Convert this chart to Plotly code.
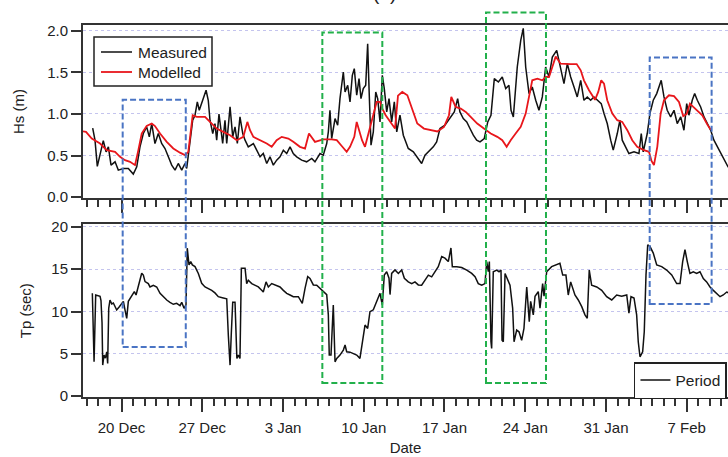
import plotly.graph_objects as go
from datetime import datetime, timedelta

# ---------------- data (time in days since base date) ----------------
base_date = datetime(2013, 12, 17)

hs_meas_t = [0.50, 0.70, 0.90, 1.14, 1.42, 1.66, 1.86, 2.09, 2.44, 2.72, 3.16, 3.59, 4.02, 4.32, 4.60, 4.89,
             5.18, 5.41, 5.62, 5.90, 6.19, 6.48, 6.77, 7.06, 7.35, 7.64, 7.92, 8.22, 8.50, 8.65, 8.94, 9.17,
             9.37, 9.57, 9.74, 9.95, 10.15, 10.33, 10.52, 10.67, 10.91, 11.10, 11.25, 11.45, 11.77, 11.97,
             12.12, 12.41, 12.64, 12.84, 13.04, 13.27, 13.51, 13.71, 13.99, 14.43, 14.72, 15.01, 15.29,
             15.59, 15.87, 16.16, 16.45, 16.74, 17.03, 17.32, 17.61, 17.89, 18.19, 18.62, 19.05, 19.49,
             19.77, 20.21, 20.49, 20.79, 20.93, 21.07, 21.22, 21.51, 21.74, 21.94, 22.23, 22.38, 22.61,
             22.81, 23.01, 23.18, 23.39, 23.59, 23.76, 23.96, 24.17, 24.34, 24.46, 24.63, 24.83, 25.04,
             25.21, 25.41, 25.61, 25.78, 25.99, 26.19, 26.42, 26.65, 26.86, 27.14, 27.43, 27.86, 28.30,
             28.73, 29.02, 29.31, 29.60, 30.03, 30.32, 30.61, 31.04, 31.48, 31.85, 32.14, 32.34, 32.63,
             32.93, 33.21, 33.50, 33.79, 34.08, 34.45, 34.75, 35.03, 35.32, 35.67, 36.01, 36.31, 36.59,
             36.77, 36.97, 37.31, 37.61, 37.83, 38.04, 38.33, 38.61, 38.91, 39.19, 39.48, 39.77, 40.06,
             40.35, 40.73, 41.07, 41.36, 41.65, 41.94, 42.23, 42.51, 42.81, 43.09, 43.38, 43.67, 43.96,
             44.25, 44.59, 44.83, 45.11, 45.41, 45.63, 45.98, 46.21, 46.41, 46.71, 46.99, 47.43, 47.86,
             48.06, 48.23, 48.58, 48.81, 49.10, 49.40, 49.79, 50.03, 50.31, 50.61, 50.90, 51.18, 51.48,
             51.76, 52.00, 52.19, 52.48, 52.69, 52.92, 53.21, 53.50, 53.78, 54.08, 54.36, 54.65, 54.94,
             55.23, 55.58, 56.00]
hs_meas = [0.83, 0.685, 0.37, 0.53, 0.68, 0.545, 0.605, 0.385, 0.425, 0.325, 0.345, 0.345, 0.277, 0.365,
           0.605, 0.765, 0.845, 0.725, 0.885, 0.645, 0.765, 0.645, 0.585, 0.485, 0.385, 0.325, 0.405, 0.325,
           0.405, 0.345, 0.685, 0.925, 0.985, 1.145, 1.045, 1.125, 1.205, 1.285, 1.165, 0.925, 0.765, 0.885,
           0.685, 1.0, 0.645, 0.925, 0.645, 1.085, 0.725, 0.845, 0.645, 0.965, 0.765, 0.685, 0.605, 0.645,
           0.565, 0.485, 0.525, 0.405, 0.485, 0.385, 0.445, 0.485, 0.565, 0.525, 0.605, 0.525, 0.485, 0.445,
           0.425, 0.465, 0.425, 0.525, 0.505, 0.645, 0.785, 1.045, 0.705, 0.945, 0.865, 1.185, 1.505, 1.265,
           1.345, 1.145, 1.465, 1.545, 1.225, 1.425, 1.185, 1.305, 1.345, 1.845, 1.305, 0.625, 0.785, 1.265,
           1.185, 0.905, 1.465, 1.305, 1.025, 1.185, 0.905, 1.145, 0.785, 0.985, 0.745, 0.585, 0.545, 0.465,
           0.405, 0.505, 0.545, 0.605, 0.665, 0.825, 0.865, 0.945, 1.025, 1.185, 1.025, 0.945, 0.905, 0.825,
           0.745, 0.685, 0.665, 0.705, 0.905, 0.985, 1.425, 1.385, 1.445, 1.305, 1.345, 1.045, 0.965, 1.565,
           1.885, 2.03, 1.565, 1.245, 1.325, 1.165, 1.045, 1.205, 1.565, 1.445, 1.685, 1.765, 1.565, 1.365,
           1.605, 1.445, 1.325, 1.205, 1.405, 1.165, 1.205, 1.165, 1.205, 1.165, 1.125, 1.005, 0.885, 0.685,
           0.565, 0.765, 0.925, 0.685, 0.605, 0.525, 0.545, 0.525, 0.765, 0.545, 0.765, 1.005, 1.165, 1.245,
           1.405, 1.205, 1.045, 0.965, 1.045, 0.885, 0.965, 0.805, 1.125, 0.985, 1.165, 1.245, 1.165, 1.085,
           0.965, 0.885, 0.805, 0.685, 0.605, 0.525, 0.465, 0.365, 0.33]

hs_model_t = [-0.34, -0.08, 0.42, 1.14, 1.72, 2.44, 2.87, 3.30, 3.74, 4.17, 4.46, 4.75, 5.18, 5.62, 5.90,
              6.34, 6.92, 7.49, 8.07, 8.50, 8.79, 9.17, 9.52, 10.24, 10.67, 11.25, 11.82, 12.41, 12.99,
              13.56, 13.91, 14.14, 14.43, 15.01, 15.59, 16.02, 16.45, 16.89, 17.46, 17.89, 18.47, 18.91,
              19.25, 19.77, 20.49, 21.22, 21.66, 22.09, 22.52, 22.81, 23.18, 23.39, 23.67, 23.85, 24.11,
              24.46, 24.74, 25.12, 25.41, 25.61, 25.90, 26.28, 26.71, 26.97, 27.34, 27.78, 28.21, 28.64,
              29.22, 29.80, 30.38, 30.96, 31.39, 31.59, 31.97, 32.41, 32.84, 33.27, 33.84, 34.42, 35.01,
              35.58, 36.01, 36.39, 36.74, 37.17, 37.61, 38.04, 38.33, 38.61, 39.05, 39.48, 39.77, 40.06,
              40.35, 40.64, 41.07, 41.51, 41.94, 42.46, 42.81, 43.09, 43.53, 44.05, 44.33, 44.59, 44.83,
              45.11, 45.55, 45.98, 46.41, 46.85, 47.28, 47.71, 48.29, 48.73, 48.95, 49.16, 49.45, 49.74,
              50.03, 50.46, 50.90, 51.33, 51.70, 52.00, 52.28, 52.57, 52.92, 53.35, 53.78, 54.08]
hs_model = [0.79, 0.785, 0.705, 0.645, 0.565, 0.545, 0.485, 0.445, 0.425, 0.385, 0.565, 0.765, 0.855, 0.885,
            0.855, 0.765, 0.665, 0.585, 0.535, 0.505, 0.545, 0.985, 0.965, 0.965, 0.905, 0.825, 0.785, 0.745,
            0.685, 0.725, 0.905, 0.805, 0.725, 0.685, 0.645, 0.605, 0.685, 0.725, 0.705, 0.665, 0.605, 0.585,
            0.765, 0.665, 0.695, 0.695, 0.685, 0.615, 0.545, 0.605, 0.725, 0.905, 0.785, 0.685, 0.605, 0.785,
            0.945, 1.145, 1.145, 1.065, 0.985, 0.905, 0.825, 1.22, 1.265, 1.225, 1.045, 0.885, 0.825, 0.805,
            0.79, 0.845, 0.985, 1.205, 1.085, 1.065, 1.025, 0.965, 0.885, 0.825, 0.765, 0.725, 0.685, 0.605,
            0.685, 0.765, 0.845, 1.005, 1.205, 1.405, 1.425, 1.405, 1.445, 1.445, 1.565, 1.69, 1.605, 1.6,
            1.6, 1.6, 1.525, 1.405, 1.285, 1.17, 1.265, 1.405, 1.365, 1.165, 1.005, 0.925, 0.905, 0.805,
            0.685, 0.605, 0.565, 0.545, 0.435, 0.385, 0.605, 1.005, 1.165, 1.225, 1.215, 1.145, 0.975, 1.0,
            1.125, 1.085, 1.045, 0.985, 0.875, 0.81]

tp_t = [0.47, 0.55, 0.62, 0.76, 1.14, 1.22, 1.31, 1.37, 1.48, 1.60, 1.72, 1.80, 1.89, 2.00, 2.15, 2.29,
        2.58, 2.81, 3.02, 3.16, 3.30, 3.45, 3.59, 3.80, 3.97, 4.11, 4.26, 4.46, 4.60, 4.75, 4.89, 5.04,
        5.32, 5.47, 5.76, 6.05, 6.34, 6.62, 6.92, 7.20, 7.49, 7.78, 8.07, 8.22, 8.42, 8.59, 8.70, 8.85,
        9.00, 9.14, 9.37, 9.66, 9.95, 10.24, 10.52, 10.82, 11.10, 11.39, 11.82, 12.12, 12.26, 12.41,
        12.52, 12.64, 12.84, 13.00, 13.13, 13.27, 13.39, 13.71, 13.85, 13.99, 14.29, 14.57, 14.86,
        15.15, 15.29, 15.53, 15.73, 16.02, 16.45, 16.74, 17.03, 17.32, 17.61, 17.89, 18.33, 18.67,
        18.91, 19.14, 19.34, 19.63, 19.92, 20.21, 20.49, 20.79, 20.93, 21.01, 21.16, 21.36, 21.51,
        21.66, 21.94, 22.23, 22.38, 22.52, 22.81, 23.09, 23.39, 23.67, 23.82, 24.11, 24.34, 24.54,
        24.83, 25.12, 25.41, 25.61, 25.78, 25.99, 26.19, 26.28, 26.42, 26.71, 27.00, 27.29, 27.52,
        27.86, 28.16, 28.44, 28.73, 29.02, 29.31, 29.60, 29.89, 30.18, 30.46, 30.76, 31.04, 31.33,
        31.56, 31.68, 32.06, 32.49, 32.93, 33.36, 33.65, 33.93, 34.23, 34.51, 34.66, 34.80, 34.89,
        35.03, 35.09, 35.23, 35.53, 35.73, 35.90, 35.99, 36.10, 36.25, 36.53, 36.68, 36.91, 37.03,
        37.26, 37.46, 37.69, 37.89, 38.13, 38.35, 38.47, 38.70, 38.85, 39.13, 39.28, 39.51, 39.63,
        39.86, 40.29, 40.73, 41.01, 41.25, 41.53, 41.73, 41.94, 42.31, 42.60, 42.90, 43.18, 43.38,
        43.55, 43.76, 44.20, 44.63, 45.06, 45.50, 45.93, 46.36, 46.80, 46.99, 47.17, 47.43, 47.66,
        47.80, 47.95, 48.18, 48.32, 48.47, 48.62, 48.81, 49.10, 49.40, 49.83, 50.26, 50.70, 51.13,
        51.42, 51.65, 51.85, 52.05, 52.28, 52.57, 52.86, 53.15, 53.44, 53.73, 54.02, 54.31, 54.60,
        54.89, 55.17, 55.47, 56.00]
tp_vals = [12.15, 7.6, 4.06, 11.95, 11.8, 11.3, 8.7, 3.67, 4.85, 4.5, 5.24, 3.87, 10.38, 11.36, 10.9, 11.0,
           10.18, 10.57, 10.97, 11.2, 10.2, 9.19, 11.2, 11.6, 11.95, 12.34, 11.95, 12.93, 13.93, 14.52, 14.3,
           13.53, 13.3, 12.9, 13.1, 12.9, 12.15, 11.75, 11.36, 11.09, 10.85, 10.97, 10.7, 11.09, 10.38, 10.8,
           17.48, 15.5, 15.9, 15.5, 15.3, 14.5, 13.33, 12.9, 12.7, 12.5, 12.2, 11.75, 11.6, 11.5, 7.2, 3.67,
           7.5, 11.1, 11.1, 4.46, 4.85, 4.46, 15.1, 15.1, 13.3, 13.7, 13.3, 13.1, 12.9, 12.5, 12.3, 13.5,
           12.9, 13.3, 13.1, 12.9, 12.5, 12.15, 11.95, 11.75, 11.75, 10.97, 12.74, 14.12, 13.9, 13.14, 13.1,
           12.74, 12.3, 12.0, 9.6, 4.85, 4.85, 10.77, 4.06, 4.46, 4.85, 5.44, 6.04, 5.24, 5.2, 5.05, 4.85,
           4.46, 5.64, 8.4, 8.0, 9.98, 10.2, 11.16, 12.15, 10.77, 14.32, 14.7, 13.93, 12.0, 14.5, 14.91,
           14.5, 14.91, 13.93, 13.5, 13.3, 13.5, 13.14, 13.1, 13.7, 14.3, 14.1, 14.7, 15.3, 16.5, 16.3, 15.9,
           17.5, 15.3, 15.3, 15.2, 14.9, 14.5, 14.1, 13.3, 13.1, 13.3, 15.9, 14.7, 15.9, 6.43, 5.64, 14.7,
           14.9, 14.7, 14.9, 6.6, 6.43, 14.5, 13.7, 13.1, 10.4, 6.43, 7.8, 7.6, 6.6, 8.0, 12.9, 8.8, 11.2,
           9.6, 11.8, 12.34, 10.4, 13.3, 11.8, 14.7, 15.3, 15.5, 15.7, 14.3, 14.3, 11.95, 13.5, 11.95, 11.36,
           10.57, 9.6, 9.2, 14.9, 13.1, 12.9, 12.5, 11.75, 11.36, 11.95, 11.8, 11.95, 9.8, 11.75, 11.6, 9.6,
           6.43, 4.65, 5.24, 7.6, 14.3, 17.87, 17.7, 16.9, 15.5, 15.3, 14.9, 14.32, 13.3, 13.3, 15.9, 17.3,
           15.9, 14.5, 14.7, 14.5, 14.7, 13.9, 13.5, 12.9, 12.5, 12.15, 11.75, 11.95, 12.3, 12.0]

# highlighted periods (days since base date, Hs top value, Tp bottom value)
box_t0 = [3.10, 20.41, 34.60, 48.79]
box_t1 = [8.57, 25.61, 39.80, 54.16]
box_hs_top = [1.17, 1.98, 2.22, 1.68]
box_tp_bottom = [5.8, 1.55, 1.55, 10.9]
box_group = ["blue", "green", "green", "blue"]

x_range_t = [-0.34, 55.58]
hs_range = [-0.01, 2.07]
tp_range = [-0.1, 20.3]
hs_ticks = [0.0, 0.5, 1.0, 1.5, 2.0]
tp_ticks = [0, 5, 10, 15, 20]

# ---------------- styling ----------------
FONT = "Liberation Sans, Arial, sans-serif"
AX = "#333333"
GRID = "#c4c4ee"
TXT = "#222222"
MEAS_COLOR = "#111111"
MODEL_COLOR = "#e8161b"
box_colors = {"blue": "#4a74c4", "green": "#22b04b"}
W, H = 728, 457
M_L, M_R, M_T, M_B = 83, 0, 25, 60
top_dom = [0.535, 1.0]
bot_dom = [0.0, 0.4642]


def to_date(t):
    return base_date + timedelta(days=t)


def px_x(px):
    return (px - M_L) / (W - M_L - M_R)


def px_y(py):
    return (H - M_B - py) / (H - M_T - M_B)


fig = go.Figure()
fig.add_trace(go.Scatter(x=[to_date(t) for t in hs_meas_t], y=hs_meas, mode="lines", name="Measured",
                         line=dict(color=MEAS_COLOR, width=1.5), xaxis="x", yaxis="y", showlegend=False))
fig.add_trace(go.Scatter(x=[to_date(t) for t in hs_model_t], y=hs_model, mode="lines", name="Modelled",
                         line=dict(color=MODEL_COLOR, width=1.8), xaxis="x", yaxis="y", showlegend=False))
fig.add_trace(go.Scatter(x=[to_date(t) for t in tp_t], y=tp_vals, mode="lines", name="Period",
                         line=dict(color=MEAS_COLOR, width=1.5), xaxis="x2", yaxis="y2", legend="legend2"))


def paper_y(v, rng, dom):
    return dom[0] + (v - rng[0]) / (rng[1] - rng[0]) * (dom[1] - dom[0])


for t0, t1, top, bot, grp in zip(box_t0, box_t1, box_hs_top, box_tp_bottom, box_group):
    fig.add_shape(type="rect", xref="x2", yref="paper",
                  x0=to_date(t0), x1=to_date(t1),
                  y0=paper_y(bot, tp_range, bot_dom), y1=paper_y(top, hs_range, top_dom),
                  line=dict(color=box_colors[grp], width=2, dash="6px,3px"),
                  fillcolor="rgba(0,0,0,0)", layer="above")

# legend box for the Hs panel (drawn to match the compact original legend)
fig.add_shape(type="rect", xref="paper", yref="paper", x0=px_x(94), x1=px_x(212), y0=px_y(86), y1=px_y(37),
              line=dict(color=TXT, width=1.5), fillcolor="white", layer="above")
legend_rows = [("Measured", MEAS_COLOR, 1.5, 52), ("Modelled", MODEL_COLOR, 1.8, 72)]
annotations = []
for label, col, lw, row_y in legend_rows:
    fig.add_shape(type="line", xref="paper", yref="paper", x0=px_x(101), x1=px_x(132),
                  y0=px_y(row_y), y1=px_y(row_y), line=dict(color=col, width=lw), layer="above")
    annotations.append(dict(text=label, xref="paper", yref="paper", x=px_x(136), y=px_y(row_y),
                            xanchor="left", yanchor="middle", showarrow=False,
                            font=dict(size=15.5, color=TXT)))
annotations.append(dict(text="(a)", xref="paper", yref="paper", x=0.468, y=1.052, xanchor="center",
                        yanchor="bottom", showarrow=False, font=dict(size=19, color=TXT)))

xr = [to_date(x_range_t[0]), to_date(x_range_t[1])]
common_x = dict(type="date", range=xr, showline=True, linecolor=AX, linewidth=2, mirror=True,
                ticks="outside", ticklen=13, tickwidth=1.5, tickcolor=AX, automargin=False,
                tick0="2013-12-20", dtick=7 * 86400000, tickformat="%-d %b",
                minor=dict(ticks="outside", ticklen=7, tickwidth=1.5, tickcolor=AX, dtick=86400000,
                           tick0="2013-12-20", showgrid=False),
                showgrid=False, zeroline=False)
common_y = dict(showline=True, linecolor=AX, linewidth=2, mirror=False, ticks="outside", ticklen=10,
                tickwidth=1.5, tickcolor=AX, showgrid=True, gridcolor=GRID, griddash="dot", gridwidth=1,
                zeroline=False, automargin=False, tickfont=dict(size=15, color=TXT))

fig.update_layout(
    width=W, height=H,
    margin=dict(l=M_L, r=M_R, t=M_T, b=M_B, autoexpand=False),
    paper_bgcolor="white", plot_bgcolor="white",
    font=dict(family=FONT, size=15, color=TXT),
    xaxis=dict(common_x, domain=[0, 1], anchor="y", showticklabels=False, matches="x2"),
    xaxis2=dict(common_x, domain=[0, 1], anchor="y2", showticklabels=True, ticklabelstandoff=3,
                tickfont=dict(size=15, color=TXT),
                title=dict(text="Date", font=dict(size=15, color=TXT), standoff=7)),
    yaxis=dict(common_y, domain=top_dom, range=hs_range, tickvals=hs_ticks, tickformat=".1f",
               title=dict(text="Hs (m)", font=dict(size=15, color=TXT), standoff=19)),
    yaxis2=dict(common_y, domain=bot_dom, range=tp_range, tickvals=tp_ticks,
                title=dict(text="Tp (sec)", font=dict(size=15, color=TXT), standoff=16)),
    legend2=dict(x=0.9984, y=0.094, xanchor="right", yanchor="top", bgcolor="white",
                 bordercolor=TXT, borderwidth=1.5, font=dict(size=15.5, color=TXT)),
    showlegend=True,
    annotations=annotations,
)

fig.write_html("out.html", config={"displayModeBar": False},
               post_script="document.body.style.margin='0px';document.body.style.padding='0px';"
                           "document.body.style.overflow='hidden';")
